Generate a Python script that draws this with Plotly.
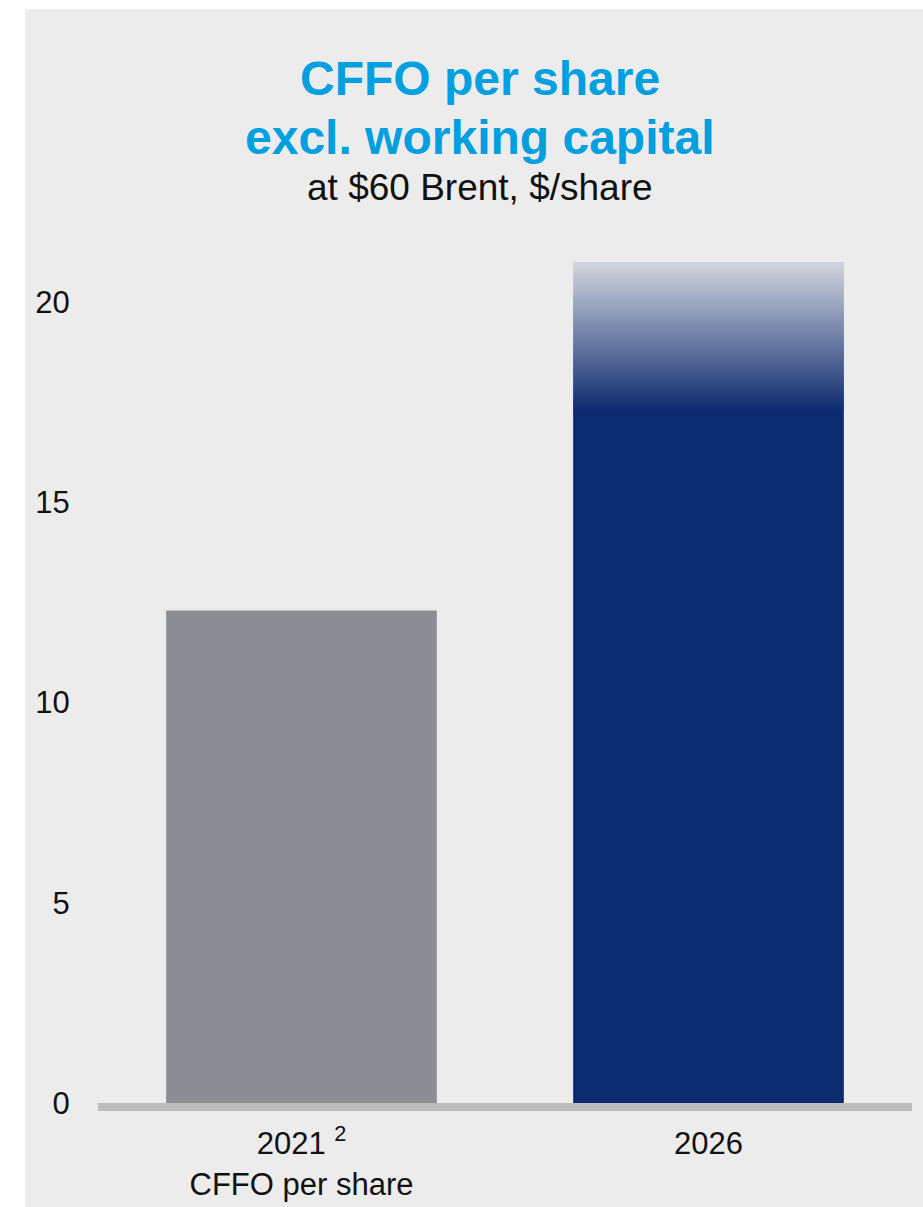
import plotly.graph_objects as go

# ---- data ----
categories = ["2021", "2026"]
tick_labels = ["2021 <sup>2</sup><br>CFFO per share", "2026"]
values = [12.3, 21.0]
fade_start_2026 = 17.3          # where the 2026 bar's fade begins
y_ticks = [0, 5, 10, 15, 20]

title_line1 = "CFFO per share"
title_line2 = "excl. working capital"
subtitle = "at $60 Brent, $/share"

# ---- style ----
GRAY_BAR = "#8b8e92"
NAVY = (12, 42, 110)
BGRGB = (236, 236, 236)
BG = "#ececec"
BLUE = "#009fdf"
FONT = "Liberation Sans, Arial, sans-serif"

fig = go.Figure()

# solid bars
fig.add_trace(go.Bar(
    x=[0, 1],
    y=[values[0], fade_start_2026],
    marker=dict(color=[GRAY_BAR, "rgb(%d,%d,%d)" % NAVY], line=dict(width=0)),
    width=0.665,
    hoverinfo="skip",
))

# fading top of 2026 bar (gradient emulated with thin opaque slices,
# each slightly overlapping the one below to avoid seams)
n_slices = 60
fade_h = values[1] - fade_start_2026
slice_h = fade_h / n_slices
ov = slice_h * 0.6
bases = [fade_start_2026 + i * slice_h - ov for i in range(n_slices)]
heights = [slice_h + ov] * n_slices
cols = []
for i in range(n_slices):
    t = (i + 0.5) / n_slices           # 0 at bottom, 1 at top
    a = 1.0 - 0.88 * t
    c = [round(NAVY[k] * a + BGRGB[k] * (1 - a)) for k in range(3)]
    cols.append("rgb(%d,%d,%d)" % tuple(c))
fig.add_trace(go.Bar(
    x=[1] * n_slices,
    y=heights,
    base=bases,
    marker=dict(color=cols, line=dict(width=0)),
    width=0.665,
    hoverinfo="skip",
))

W, H = 923, 1207
ML, MR, MB = 98, 11, 104
YMAX = 21.6
plot_h = 1103 - 238
MT = H - MB - plot_h

def py(ypx):
    return (H - MB - ypx) / plot_h

def px(xpx):
    return (xpx - ML) / (W - ML - MR)

fig.update_layout(
    width=W, height=H,
    margin=dict(l=ML, r=MR, t=MT, b=MB, autoexpand=False),
    paper_bgcolor="white",
    plot_bgcolor="rgba(0,0,0,0)",
    barmode="overlay",
    showlegend=False,
    font=dict(family=FONT, color="#111111"),
    xaxis=dict(
        range=[-0.5, 1.5], automargin=False,
        tickmode="array", tickvals=[0, 1], ticktext=tick_labels,
        tickfont=dict(size=31, family=FONT, color="#111111"),
        showgrid=False, zeroline=False,
        showline=True, linecolor="#bdbdbd", linewidth=8,
        ticks="outside", ticklen=6, tickcolor="rgba(0,0,0,0)",
    ),
    yaxis=dict(
        range=[0, YMAX], automargin=False,
        tickmode="array", tickvals=y_ticks,
        tickfont=dict(size=31, family=FONT, color="#111111"),
        showgrid=False, zeroline=False, showline=False,
        ticks="outside", ticklen=21, tickcolor="rgba(0,0,0,0)",
    ),
    shapes=[dict(
        type="rect", xref="paper", yref="paper", layer="below",
        x0=px(25), x1=px(W + 5), y0=py(H + 5), y1=py(9),
        fillcolor=BG, line=dict(width=0),
    )],
    annotations=[
        dict(text="<b>%s</b>" % title_line1, x=px(480), y=py(78),
             xref="paper", yref="paper", showarrow=False,
             xanchor="center", yanchor="middle",
             font=dict(size=48, color=BLUE, family=FONT)),
        dict(text="<b>%s</b>" % title_line2, x=px(480), y=py(137),
             xref="paper", yref="paper", showarrow=False,
             xanchor="center", yanchor="middle",
             font=dict(size=48, color=BLUE, family=FONT)),
        dict(text=subtitle, x=px(480), y=py(188),
             xref="paper", yref="paper", showarrow=False,
             xanchor="center", yanchor="middle",
             font=dict(size=37, color="#111111", family=FONT)),
    ],
)

fig.write_html("out.html")
